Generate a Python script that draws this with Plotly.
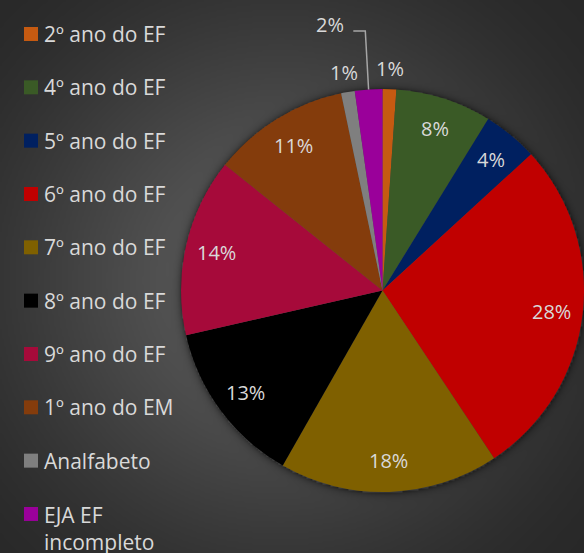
import numpy as np
import plotly.graph_objects as go

# ---------------- data ----------------
categories = ["2º ano do EF", "4º ano do EF", "5º ano do EF", "6º ano do EF",
              "7º ano do EF", "8º ano do EF", "9º ano do EF", "1º ano do EM",
              "Analfabeto", "EJA EF incompleto"]
counts = [1, 7, 4, 25, 16, 12, 13, 10, 1, 2]
pct_labels = ["1%", "8%", "4%", "28%", "18%", "13%", "14%", "11%", "1%", "2%"]
colors = ["#C55A11", "#3A5A26", "#002060", "#C00000", "#7F6000",
          "#000000", "#A60A3A", "#843C0C", "#7F7F7F", "#9A009A"]

# ---------------- layout constants ----------------
W, H = 584, 553
CX, CY, R = 382.5, 290.5, 201.5
TXT = "#D9D9D9"
FONT = "Open Sans"

# background radial gradient (dark style) + soft pie shadow
xs = np.arange(1, W, 2)
ys = np.arange(1, H + 1, 2)
X, Y = np.meshgrid(xs, ys)
t = np.clip(np.hypot(X - 280, Y - 280) / 420.0, 0, 1)
s = t * t * (3 - 2 * t)
g = 40 + 50 * (1 - s)
dp = np.hypot(X - CX, Y - CY) - R
shadow = np.where(dp > 0, 0.45 * np.exp(-np.clip(dp, 0, None) / 3.5), 0)
g = np.round(g * (1 - shadow)).astype(int)

fig = go.Figure()
fig.add_trace(go.Heatmap(
    x=xs, y=ys, z=g, zmin=0, zmax=255, zsmooth="best",
    colorscale=[[0, "rgb(0,0,0)"], [1, "rgb(255,255,255)"]],
    showscale=False, hoverinfo="skip"))

fig.add_trace(go.Pie(
    labels=categories, values=counts, sort=False, direction="clockwise",
    rotation=0, textinfo="none", showlegend=False,
    marker=dict(colors=colors, line=dict(width=0)),
    domain=dict(x=[(CX - R) / W, (CX + R) / W],
                y=[1 - (CY + R) / H, 1 - (CY - R) / H])))

annotations = []
shapes = []

# pie labels derived from the data
total = float(sum(counts))
cum = 0.0
last_out_angle = None
for v, lab in zip(counts, pct_labels):
    share = v / total
    mid = np.radians((cum + share / 2) * 360.0)
    cum += share
    if share >= 0.03:
        r = 0.845 * R
        annotations.append(dict(x=CX + r * np.sin(mid), y=CY - r * np.cos(mid),
                                text=lab, showarrow=False, xref="x", yref="y",
                                font=dict(family=FONT, size=20, color=TXT)))
    else:
        ang = np.degrees(mid)
        if last_out_angle is not None and abs(ang - last_out_angle) < 8:
            # crowded: leader line
            px, py = CX + R * np.sin(mid), CY - R * np.cos(mid)
            qx, qy = px - 3.3, CY - 1.288 * R
            shapes.append(dict(type="path", xref="x", yref="y",
                               path=f"M{px},{py} L{qx},{qy} L{qx - 12},{qy}",
                               line=dict(color="#A6A6A6", width=1.5)))
            annotations.append(dict(x=qx - 19, y=qy - 6, text=lab, showarrow=False,
                                    xanchor="right", xref="x", yref="y",
                                    font=dict(family=FONT, size=20, color=TXT)))
        else:
            r = 1.1 * R
            annotations.append(dict(x=CX + r * np.sin(mid), y=CY - r * np.cos(mid),
                                    text=lab, showarrow=False, xref="x", yref="y",
                                    font=dict(family=FONT, size=20, color=TXT)))
        last_out_angle = ang

# legend (manual, to match spacing)
for i, (cat, col) in enumerate(zip(categories, colors)):
    yc = 34 + 53.33 * i
    shapes.append(dict(type="rect", xref="x", yref="y", x0=24, x1=38,
                       y0=yc - 7, y1=yc + 7, fillcolor=col, line=dict(width=0)))
    label = cat if cat != "EJA EF incompleto" else "EJA EF<br>incompleto"
    if "<br>" in label:
        annotations.append(dict(x=42, y=yc - 15, text=label, showarrow=False,
                                xanchor="left", yanchor="top", align="left",
                                xref="x", yref="y",
                                font=dict(family=FONT, size=21, color=TXT)))
    else:
        annotations.append(dict(x=42, y=yc, text=label, showarrow=False,
                                xanchor="left", yanchor="middle",
                                xref="x", yref="y",
                                font=dict(family=FONT, size=21, color=TXT)))

fig.update_layout(
    width=W, height=H, margin=dict(l=0, r=0, t=0, b=0),
    paper_bgcolor="#333333", plot_bgcolor="#333333",
    xaxis=dict(range=[0, W], visible=False, fixedrange=True, domain=[0, 1]),
    yaxis=dict(range=[H, 0], visible=False, fixedrange=True, domain=[0, 1]),
    shapes=shapes, annotations=annotations, showlegend=False)

fig.write_html("out.html", config={"displayModeBar": False},
               post_script="document.body.style.margin='0';document.body.style.overflow='hidden';")
